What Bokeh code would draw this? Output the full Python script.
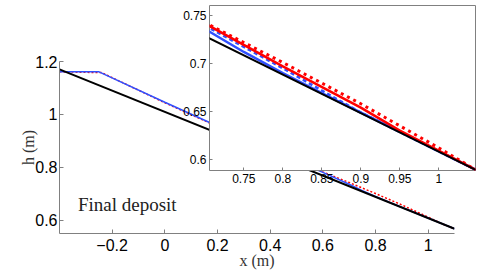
from bokeh.plotting import figure
from bokeh.models import Range1d, FixedTicker, Label
from bokeh.layouts import column
from bokeh.embed import file_html
from bokeh.resources import INLINE

# ---------------- data ----------------
black_x = [-0.4, 1.1]
black_y = [1.17, 0.568]

blue_solid_x = [-0.4, -0.25, 0.0, 0.3, 0.6, 0.70, 0.75, 0.80, 0.85, 1.1]
blue_solid_y = [1.161, 1.161, 1.046, 0.911, 0.781, 0.736, 0.712, 0.690, 0.669, 0.568]

red_dot_x = [-0.4, -0.24, 0.0, 0.3, 0.6, 0.70, 0.8, 0.9, 0.95, 1.0, 1.047, 1.1]
red_dot_y = [1.161, 1.158, 1.044, 0.909, 0.783, 0.7426, 0.701, 0.658, 0.635, 0.612, 0.5893, 0.568]

red_solid_x = [0.70, 0.8, 0.9, 0.95, 1.047]
red_solid_y = [0.7417, 0.697, 0.654, 0.630, 0.5893]

blue_dash_x = [0.70, 0.8, 0.895, 1.047]
blue_dash_y = [0.7396, 0.695, 0.651, 0.5893]

main_xticks = [-0.2, 0, 0.2, 0.4, 0.6, 0.8, 1]
main_xlabels = ["\u22120.2", "0", "0.2", "0.4", "0.6", "0.8", "1"]
main_yticks = [0.6, 0.8, 1, 1.2]
main_ylabels = ["0.6", "0.8", "1", "1.2"]

inset_xticks = [0.75, 0.8, 0.85, 0.9, 0.95, 1]
inset_xlabels = ["0.75", "0.8", "0.85", "0.9", "0.95", "1"]
inset_yticks = [0.6, 0.65, 0.7, 0.75]
inset_ylabels = ["0.6", "0.65", "0.7", "0.75"]

BLUE = "#3050ff"
RED = "#ff0000"
GRAY = "#808080"

# ---------------- main figure ----------------
p = figure(width=494, height=275,
           x_range=Range1d(-0.4, 1.1), y_range=Range1d(0.55, 1.2),
           min_border_left=59, min_border_right=40, min_border_top=61, min_border_bottom=42,
           output_backend="svg", toolbar_location=None)
p.outline_line_color = None
p.grid.visible = False
p.background_fill_color = None
p.border_fill_color = None

p.line(red_dot_x, red_dot_y, line_color=RED, line_width=1.5, line_dash="2 2")
p.line(blue_solid_x, blue_solid_y, line_color=BLUE, line_width=1.5)
p.line(black_x, black_y, line_color="black", line_width=2)

p.xaxis.ticker = FixedTicker(ticks=main_xticks)
p.xaxis.major_label_overrides = dict(zip(main_xticks, main_xlabels))
p.yaxis.ticker = FixedTicker(ticks=main_yticks)
p.yaxis.major_label_overrides = dict(zip(main_yticks, main_ylabels))

for ax in (p.xaxis[0], p.yaxis[0]):
    ax.axis_line_color = GRAY
    ax.major_tick_line_color = GRAY
    ax.major_tick_in = 4
    ax.major_tick_out = 0
    ax.minor_tick_line_color = None
    ax.major_label_text_font = "Liberation Sans"
    ax.major_label_text_font_size = "16px"
    ax.major_label_text_color = "black"
    ax.axis_label_text_font = "Liberation Serif"
    ax.axis_label_text_font_size = "16px"
    ax.axis_label_text_font_style = "normal"
    ax.axis_label_text_color = "#333333"

p.xaxis.axis_label = "x (m)"
p.yaxis.axis_label = "h (m)"
p.xaxis.major_label_standoff = 5
p.xaxis.axis_label_standoff = -2
p.yaxis.major_label_standoff = 2
p.yaxis.axis_label_standoff = -5

p.add_layout(Label(x=-0.33, y=0.66, text="Final deposit", text_font="Liberation Serif",
                   text_font_size="19px", text_color="#222222", text_baseline="alphabetic"))

# ---------------- inset figure ----------------
q = figure(frame_width=266, frame_height=165,
           x_range=Range1d(0.706, 1.047), y_range=Range1d(0.5885, 0.7604),
           min_border_left=40, min_border_right=38, min_border_top=5, min_border_bottom=25,
           output_backend="svg", toolbar_location=None)
q.grid.visible = False
q.background_fill_color = "white"
q.border_fill_color = None
q.outline_line_color = GRAY
q.outline_line_width = 1

q.line(blue_solid_x, blue_solid_y, line_color=BLUE, line_width=2.5)
q.line(blue_dash_x, blue_dash_y, line_color=BLUE, line_width=2.5, line_dash="4 3")
q.line(red_solid_x, red_solid_y, line_color=RED, line_width=2.5)
q.line(red_dot_x, red_dot_y, line_color=RED, line_width=3, line_dash="3 4")
q.line(black_x, black_y, line_color="black", line_width=2)

q.xaxis.ticker = FixedTicker(ticks=inset_xticks)
q.xaxis.major_label_overrides = dict(zip(inset_xticks, inset_xlabels))
q.yaxis.ticker = FixedTicker(ticks=inset_yticks)
q.yaxis.major_label_overrides = dict(zip(inset_yticks, inset_ylabels))

for ax in q.axis:
    ax.axis_line_color = None
    ax.major_tick_line_color = GRAY
    ax.major_tick_in = 3
    ax.major_tick_out = 0
    ax.minor_tick_line_color = None
    ax.major_label_text_font = "Liberation Sans"
    ax.major_label_text_font_size = "12px"
    ax.major_label_text_color = "black"
    ax.major_label_standoff = 3

q.margin = (-275, 0, 0, 150)

layout = column(p, q)
open("out.html", "w").write(file_html(layout, INLINE))
